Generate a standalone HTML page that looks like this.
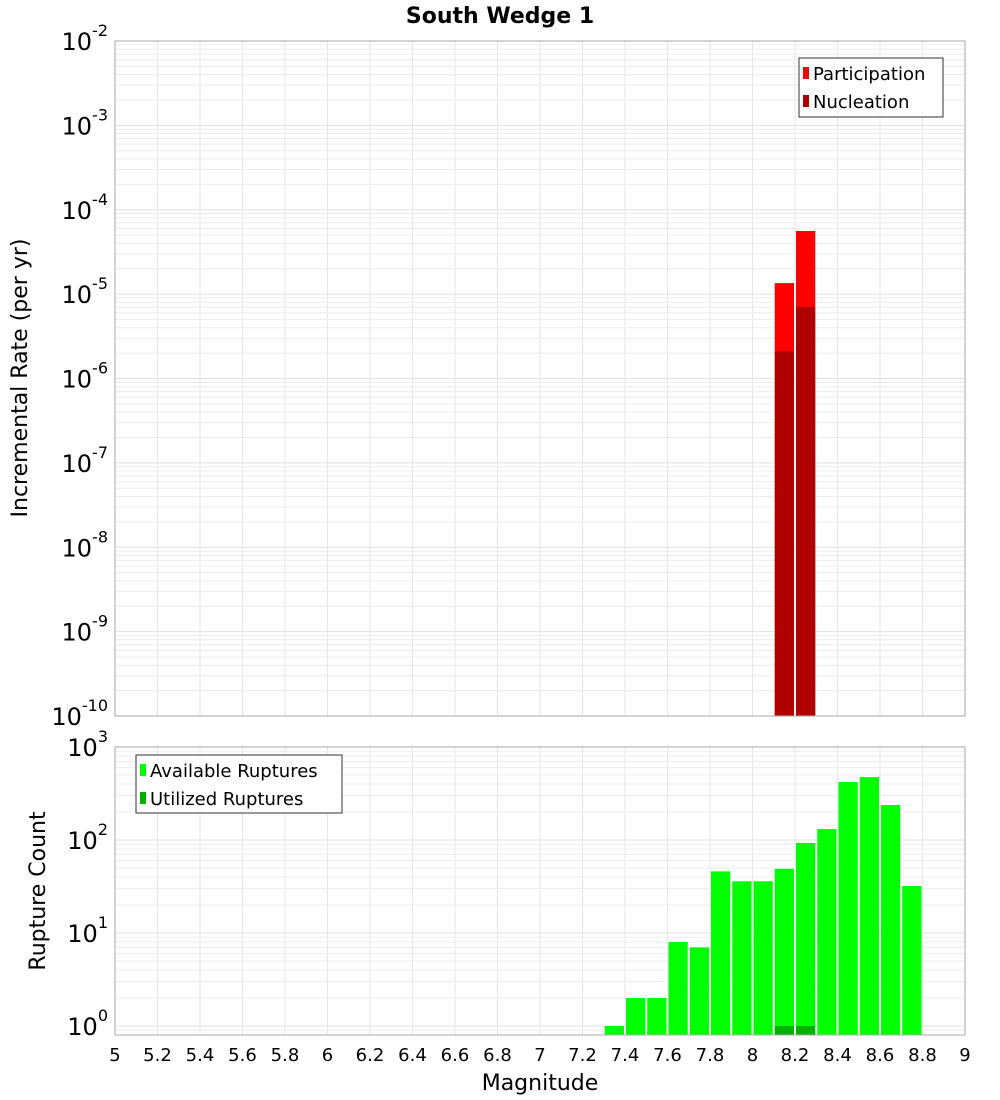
<!DOCTYPE html>
<html><head><meta charset="utf-8"><style>
body{margin:0;background:#fff;}
svg{display:block;font-family:"DejaVu Sans","Liberation Sans",sans-serif;}
</style></head><body>
<svg id="c" width="1000" height="1100" xmlns="http://www.w3.org/2000/svg"></svg>
<script>
const topBins=[8.1,8.2];
const participation=[1.35e-5,5.6e-5];
const nucleation=[2.1e-6,7.0e-6];
const botBins=[7.3,7.4,7.5,7.6,7.7,7.8,7.9,8.0,8.1,8.2,8.3,8.4,8.5,8.6,8.7];
const available=[1,2,2,8,7,46,36,36,49,93,131,420,475,238,32];
const utilBins=[8.1,8.2];
const utilized=[1,1];
const xTicks=["5","5.2","5.4","5.6","5.8","6","6.2","6.4","6.6","6.8","7","7.2","7.4","7.6","7.8","8","8.2","8.4","8.6","8.8","9"];
const topExp=[-2,-3,-4,-5,-6,-7,-8,-9,-10];
const botExp=[3,2,1,0];

const NS="http://www.w3.org/2000/svg";
const svg=document.getElementById('c');
function mk(t,a,p){const e=document.createElementNS(NS,t);for(const k in a)e.setAttribute(k,a[k]);(p||svg).appendChild(e);return e;}
const X0=115,X1=965;
const x=m=>X0+(m-5)/4*(X1-X0);
const T0=41,T1=716, yT=v=>T0+(-2-Math.log10(v))*(T1-T0)/8;
const B0=747,B1=1035, dec=93, yB=v=>1026-Math.log10(v)*dec;

function grid(y0,y1,yf,lo,hi,g){
  for(let m=5;m<=9.001;m+=0.2){const l=mk('line',{x1:x(m),x2:x(m),y1:y0,y2:y1,stroke:'#e6e6e6','stroke-width':1},g);}
  for(let e=lo;e<=hi;e++)for(let k=1;k<10;k++){const yy=yf(k*Math.pow(10,e));if(yy>=y0&&yy<=y1){mk('line',{x1:X0,x2:X1,y1:yy,y2:yy,stroke:k==1?'#e0e0e0':'#ececec','stroke-width':1},g);}}
}
// top plot
const gt=mk('g',{});


grid(T0,T1,yT,-10,-3,gt);
topBins.forEach((b,i)=>{
  const r=mk('rect',{x:x(b)+1,y:yT(participation[i]),width:x(b+0.1)-x(b)-2,height:T1-yT(participation[i]),fill:'#ff0000'},gt);
  
  
  const n=mk('rect',{x:x(b)+1,y:yT(nucleation[i]),width:x(b+0.1)-x(b)-2,height:T1-yT(nucleation[i]),fill:'#b00000'},gt);
  
  
});
mk('rect',{x:X0,y:T0,width:X1-X0,height:T1-T0,fill:'none',stroke:'#aaa'},gt);
topExp.forEach(e=>{
  const t=mk('text',{x:108,y:yT(Math.pow(10,e))+9,'text-anchor':'end','font-size':24},gt);
  
  
  t.textContent='10';
  const s=mk('tspan',{dy:-14,'font-size':16},t);s.textContent=e;
});
// bottom plot
const gb=mk('g',{});


grid(B0,B1,yB,-1,2,gb);
botBins.forEach((b,i)=>{
  const r=mk('rect',{x:x(b)+1,y:yB(available[i]),width:x(b+0.1)-x(b)-2,height:B1-yB(available[i]),fill:'#00ff00'},gb);
  
  
});
utilBins.forEach((b,i)=>{
  const r=mk('rect',{x:x(b)+1,y:yB(utilized[i]),width:x(b+0.1)-x(b)-2,height:B1-yB(utilized[i]),fill:'#00b000'},gb);
  
  
});
mk('rect',{x:X0,y:B0,width:X1-X0,height:B1-B0,fill:'none',stroke:'#aaa'},gb);
botExp.forEach(e=>{
  const t=mk('text',{x:108,y:yB(Math.pow(10,e))+9,'text-anchor':'end','font-size':24},gb);
  
  
  t.textContent='10';
  const s=mk('tspan',{dy:-14,'font-size':16},t);s.textContent=e;
});
xTicks.forEach(l=>{
  const t=mk('text',{x:x(parseFloat(l)),y:1061,'text-anchor':'middle','font-size':18});
  
  
  t.textContent=l;
});
</script>
<svg style="position:absolute;left:0;top:0" width="1000" height="1100" xmlns="http://www.w3.org/2000/svg" font-family="DejaVu Sans, Liberation Sans, sans-serif">
<text x="500" y="23" text-anchor="middle" font-size="22" font-weight="bold">South Wedge 1</text>
<text transform="translate(27,378) rotate(-90)" text-anchor="middle" font-size="22">Incremental Rate (per yr)</text>
<text transform="translate(45,891) rotate(-90)" text-anchor="middle" font-size="22">Rupture Count</text>
<text x="540" y="1090" text-anchor="middle" font-size="22">Magnitude</text>
<g>
<rect x="799" y="58" width="144" height="59" fill="#fff" stroke="#333"/>
<rect x="803" y="67" width="6" height="12" fill="#ff0000"/>
<text x="813" y="80" font-size="18">Participation</text>
<rect x="803" y="95" width="6" height="12" fill="#b00000"/>
<text x="813" y="108" font-size="18">Nucleation</text>
</g>
<g>
<rect x="136" y="755" width="206" height="58" fill="#fff" stroke="#333"/>
<rect x="140" y="764" width="6" height="12" fill="#00ff00"/>
<text x="150" y="777" font-size="18">Available Ruptures</text>
<rect x="140" y="792" width="6" height="12" fill="#00b000"/>
<text x="150" y="805" font-size="18">Utilized Ruptures</text>
</g>
</svg>
</body></html>
